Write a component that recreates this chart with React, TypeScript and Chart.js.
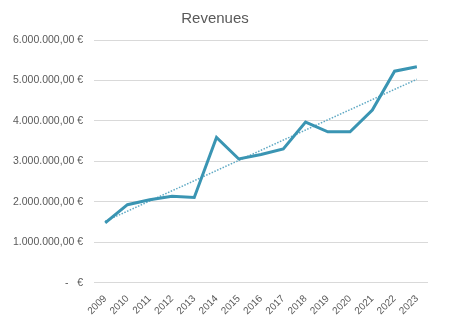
import React, { useEffect, useRef } from "react";
import { Chart, registerables } from "chart.js";

Chart.register(...registerables);

const years = ["2009", "2010", "2011", "2012", "2013", "2014", "2015", "2016", "2017", "2018", "2019", "2020", "2021", "2022", "2023"];
const revenues = [1480000, 1930000, 2050000, 2140000, 2110000, 3590000, 3060000, 3170000, 3310000, 3970000, 3730000, 3730000, 4270000, 5230000, 5340000];
const trendYears = ["2009", "2023"];
const trendValues = [1520000, 5030000];
const yTicks = [0, 1000000, 2000000, 3000000, 4000000, 5000000, 6000000];

function formatEuro(v: number): string {
  if (v === 0) return "-   €";
  const whole = Math.round(v).toString().replace(/\B(?=(\d{3})+(?!\d))/g, ".");
  return whole + ",00 €";
}

const FONT = "'Liberation Sans', Arial, Helvetica, sans-serif";

export default function App() {
  const ref = useRef<HTMLCanvasElement>(null);
  useEffect(() => {
    if (!ref.current) return;
    const chart = new Chart(ref.current, {
      type: "line",
      data: {
        labels: years,
        datasets: [
          {
            label: "Revenues",
            data: revenues,
            borderColor: "#3a95b3",
            backgroundColor: "#3a95b3",
            borderWidth: 3,
            pointRadius: 0,
            tension: 0,
            borderJoinStyle: "miter",
          },
          {
            label: "Trend",
            data: trendYears.map((y, i) => ({ x: y, y: trendValues[i] })) as any,
            borderColor: "#5fa9c4",
            borderWidth: 1.5,
            borderDash: [1.5, 1.5],
            pointRadius: 0,
            tension: 0,
          },
        ],
      },
      options: {
        animation: false,
        responsive: false,
        maintainAspectRatio: false,
        layout: { padding: { left: 2, right: 21, top: 6, bottom: 6 } },
        plugins: {
          legend: { display: false },
          tooltip: { enabled: false },
          title: {
            display: true,
            text: "Revenues",
            color: "#595959",
            font: { family: FONT, size: 15, weight: "normal" },
            padding: { top: 4, bottom: 12 },
          },
        },
        scales: {
          x: {
            offset: true,
            grid: { display: false },
            border: { display: false },
            ticks: {
              color: "#595959",
              font: { family: FONT, size: 10 },
              maxRotation: 45,
              minRotation: 45,
              autoSkip: false,
              padding: 2,
            },
          },
          y: {
            min: 0,
            max: 6000000,
            afterBuildTicks: (axis: any) => {
              axis.ticks = yTicks.map((v) => ({ value: v }));
            },
            grid: { color: "#d9d9d9", lineWidth: 1, drawTicks: false },
            border: { display: false },
            ticks: {
              color: "#595959",
              font: { family: FONT, size: 10.5 },
              padding: 11,
              callback: (v: any) => formatEuro(Number(v)),
            },
          },
        },
      },
    });
    return () => chart.destroy();
  }, []);
  return (
    <div style={{ position: "fixed", left: 0, top: 0, width: 449, height: 325, background: "#fff" }}>
      <canvas ref={ref} width={449} height={325} />
    </div>
  );
}
